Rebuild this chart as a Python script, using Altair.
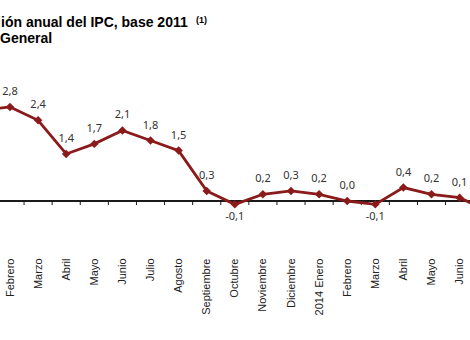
import json
import altair as alt
import pandas as pd

# categories (index 0 = Enero 2013 ... 18 = Julio 2014)
months = ["Enero", "Febrero", "Marzo", "Abril", "Mayo", "Junio", "Julio", "Agosto",
          "Septiembre", "Octubre", "Noviembre", "Diciembre", "2014 Enero", "Febrero",
          "Marzo", "Abril", "Mayo", "Junio", "Julio"]
values = [2.7, 2.8, 2.4, 1.4, 1.7, 2.1, 1.8, 1.5, 0.3, -0.1, 0.2, 0.3, 0.2, 0.0,
          -0.1, 0.4, 0.2, 0.1, -0.3]
# title text as visible in the (cropped) reference
title_line1 = "ión anual del IPC, base 2011"
title_note = "(1)"
title_line2 = "General"

df = pd.DataFrame({"i": list(range(len(months))), "mes": months, "v": values})
df["b"] = df["i"] + 0.5
df["z"] = 0.0
df["zt"] = -0.12
df["t"] = [f"{v:.1f}".replace(".", ",") for v in values]

RED = "#8B1A1A"
xscale = alt.Scale(domain=[0.644, 17.37], nice=False, zero=False)
yscale = alt.Scale(domain=[-1.607, 5.982], nice=False, zero=False)

label_expr = json.dumps(months) + "[datum.value]"

xaxis = alt.Axis(values=list(range(1, 18)), labelExpr=label_expr,
                 labelAngle=270, labelAlign="right", labelBaseline="middle",
                 labelPadding=3, domain=False, ticks=False, grid=False,
                 title=None, labelFont="Liberation Sans", labelFontSize=11,
                 labelColor="#222222", labelOverlap=False)
x_enc = alt.X("i:Q", scale=xscale, axis=xaxis)
y_enc = alt.Y("v:Q", scale=yscale, axis=None)

base = alt.Chart(df)

zero = base.mark_rule(color="#1a1a1a", strokeWidth=1).encode(
    y=alt.Y("z:Q", scale=yscale, axis=None))

ticks = base.mark_rule(color="#1a1a1a", strokeWidth=1, clip=True).encode(
    x=alt.X("b:Q", scale=xscale, axis=xaxis),
    y=alt.Y("z:Q", scale=yscale, axis=None), y2="zt:Q")

line = base.mark_line(color=RED, strokeWidth=2.8, clip=True).encode(x=x_enc, y=y_enc)
pts = base.mark_point(shape="diamond", filled=True, size=72, color=RED, opacity=1,
                      clip=True).encode(x=x_enc, y=y_enc)

vis = "datum.i >= 1 && datum.i <= 17"
lab_pos = base.transform_filter(vis + " && datum.v >= 0").mark_text(
    font="Noto Sans", fontSize=11, color="#333333", dy=-12, baseline="alphabetic",
    clip=True).encode(x=x_enc, y=y_enc, text="t:N")
lab_neg = base.transform_filter(vis + " && datum.v < 0").mark_text(
    font="Noto Sans", fontSize=11, color="#333333", dy=16, baseline="alphabetic",
    clip=True).encode(x=x_enc, y=y_enc, text="t:N")

tdf = pd.DataFrame({"t1": [title_line1], "tn": [title_note], "t2": [title_line2]})
tb = alt.Chart(tdf)
t1 = tb.mark_text(font="Liberation Sans", fontSize=14, fontWeight="bold", color="#000000",
                  align="left", baseline="alphabetic").encode(
    x=alt.value(1), y=alt.value(27), text="t1:N")
t1n = tb.mark_text(font="Liberation Sans", fontSize=9, fontWeight="bold", color="#000000",
                   align="left", baseline="alphabetic").encode(
    x=alt.value(196), y=alt.value(23), text="tn:N")
t2 = tb.mark_text(font="Liberation Sans", fontSize=14, fontWeight="bold", color="#000000",
                  align="left", baseline="alphabetic").encode(
    x=alt.value(0), y=alt.value(43), text="t2:N")

chart = alt.layer(zero, ticks, line, pts, lab_pos, lab_neg, t1, t1n, t2).properties(
    width=470, height=255,
    autosize=alt.AutoSizeParams(type="none"),
    padding={"left": 0, "top": 0, "right": 0, "bottom": 85},
    background="white",
).configure_view(strokeWidth=0)

chart.save("out.html", embed_options={"renderer": "svg", "actions": False})
